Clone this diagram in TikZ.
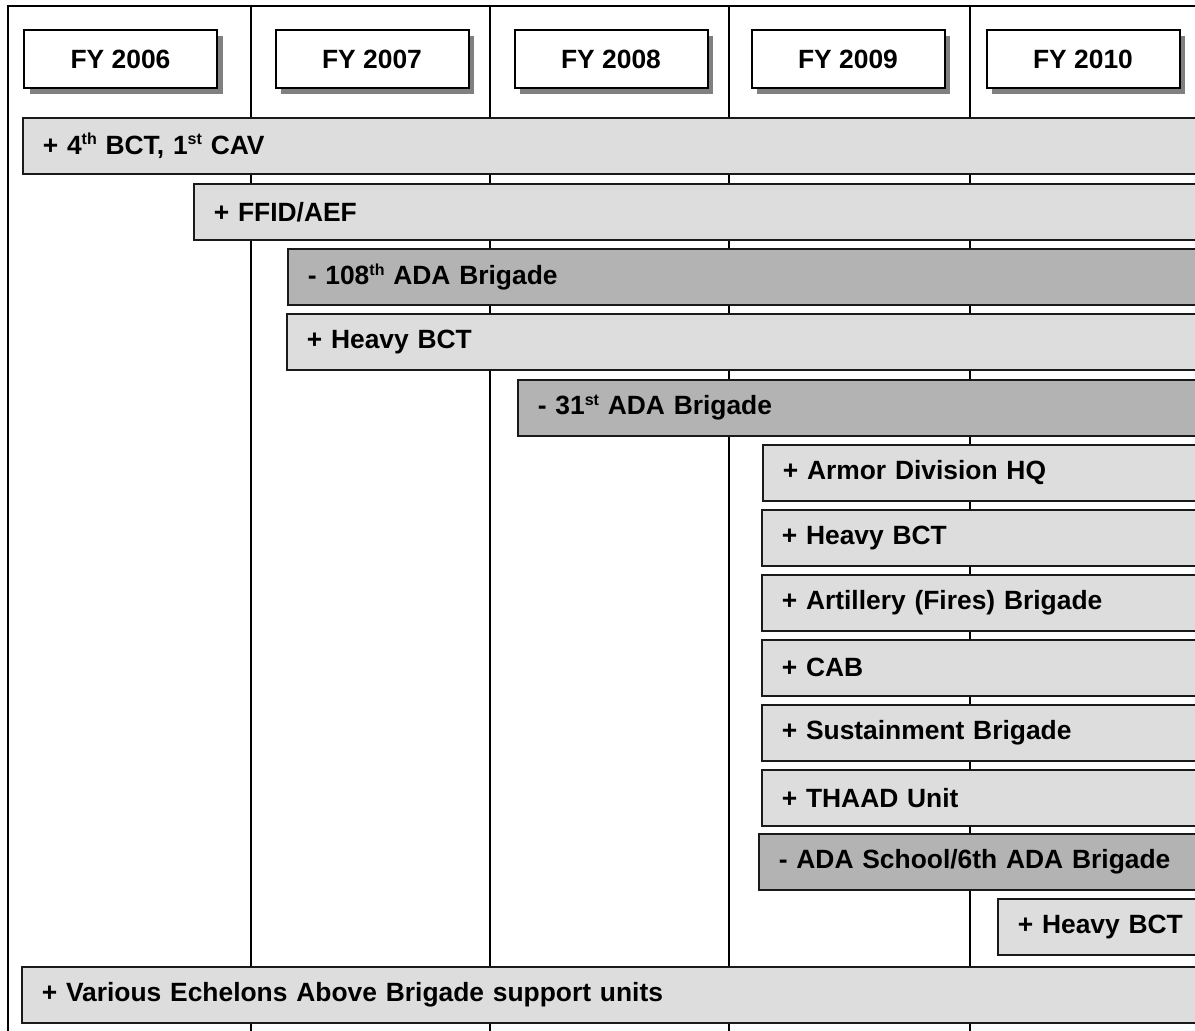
\documentclass[tikz,border=0pt]{standalone}
\usepackage{fontspec}
\setmainfont{Liberation Sans}
\usetikzlibrary{shadows}
\definecolor{cLight}{HTML}{DDDDDD}
\definecolor{cDark}{HTML}{B3B3B3}
\definecolor{cShadow}{HTML}{808080}
\definecolor{cLine}{HTML}{1A1A1A}
\newcommand{\mysup}[1]{\raisebox{9.5pt}{\fontsize{16}{16}\selectfont #1}}
\begin{document}
\begin{tikzpicture}[x=1pt,y=-1pt,
  lbl/.style={font=\bfseries\fontsize{26.4}{30}\selectfont},
  fybox/.style={lbl, draw=black, line width=2pt, fill=white,
    minimum width=193pt, minimum height=58pt, inner sep=0pt,
    drop shadow={shadow xshift=5.5pt, shadow yshift=-6pt, fill=cShadow, opacity=1}},
  bar/.style={lbl, draw=cLine, line width=1.6pt, fill=cLight,
    minimum height=56pt, inner xsep=20pt, inner ysep=0pt,
    anchor=north west, align=left, text width=#1},
  darkbar/.style={bar=#1, fill=cDark},
  gridline/.style={line width=1.5pt, draw=black}]
\useasboundingbox (0,0) rectangle (1195,1031);
\clip (0,0) rectangle (1195,1031);
% frame and column lines
\draw[gridline] (8,1040) -- (8,6) -- (1210,6);
\foreach \xx in {251,490,729,970} \draw[gridline] (\xx,6) -- (\xx,1040);
% year headers
\node[fybox] (fy06) at (120.5,59) {FY 2006};
\node[fybox] (fy07) at (372,59) {FY 2007};
\node[fybox] (fy08) at (611,59) {FY 2008};
\node[fybox] (fy09) at (848,59) {FY 2009};
\node[fybox] (fy10) at (1083,59) {FY 2010};
% bars (text width = 1190 - x)
\node[bar=1168pt] (b1) at (22,117) {+ 4\mysup{th} BCT, 1\mysup{st} CAV};
\node[bar=997pt] (b2) at (193,183) {+ FFID/AEF};
\node[darkbar=903pt] (b3) at (287,248) {- 108\mysup{th} ADA Brigade};
\node[bar=904pt] (b4) at (286,313) {+ Heavy BCT};
\node[darkbar=673pt] (b5) at (517,379) {- 31\mysup{st} ADA Brigade};
\node[bar=428pt] (b6) at (762,444) {+ Armor Division HQ};
\node[bar=429pt] (b7) at (761,509) {+ Heavy BCT};
\node[bar=429pt] (b8) at (761,574) {+ Artillery (Fires) Brigade};
\node[bar=429pt] (b9) at (761,639) {+ CAB};
\node[bar=429pt] (b10) at (761,704) {+ Sustainment Brigade};
\node[bar=429pt] (b11) at (761,769) {+ THAAD Unit};
\node[darkbar=432pt] (b12) at (758,833) {- ADA School/6th ADA Brigade};
\node[bar=193pt] (b13) at (997,898) {+ Heavy BCT};
\node[bar=1169pt] (b14) at (21,966) {+ Various Echelons Above Brigade support units};
\end{tikzpicture}
\end{document}
